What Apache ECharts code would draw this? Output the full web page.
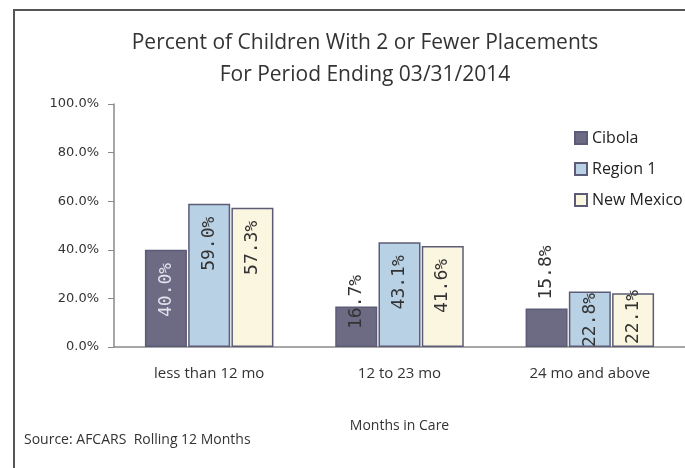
<!DOCTYPE html>
<html>
<head>
<meta charset="utf-8">
<script src="https://cdn.jsdelivr.net/npm/echarts@6/dist/echarts.min.js"></script>
<style>
  html, body { margin: 0; padding: 0; background: #fff; }
  #chart { width: 685px; height: 468px; }
</style>
</head>
<body>
<div id="chart"></div>
<script>
// data
const categories = ["less than 12 mo", "12 to 23 mo", "24 mo and above"];
const seriesNames = ["Cibola", "Region 1", "New Mexico"];
const cibola = [40.0, 16.7, 15.8];
const region1 = [59.0, 43.1, 22.8];
const newMexico = [57.3, 41.6, 22.1];
const yTicks = [0, 20, 40, 60, 80, 100];

const colors = ["#6d6a84", "#b9d1e4", "#faf6df"];
const labelColors = ["#e2e2ec", "#333", "#333"];

// labels that Excel did not put at the inside end of the bar
const labelTweaks = {
  "0-1": { position: "insideBottom", align: "left", distance: 18, color: "#333" },
  "0-2": { position: "top", align: "left", distance: 9, color: "#333" },
  "1-2": { position: "insideBottom", align: "left", distance: 0 },
  "2-2": { position: "insideBottom", align: "left", distance: 3 },
};

const chart = echarts.init(document.getElementById("chart"));

const allValues = [cibola, region1, newMexico];
const series = allValues.map(function (vals, s) {
  return {
    name: seriesNames[s],
    type: "bar",
    barWidth: 42,
    barGap: "3%",
    itemStyle: {
      color: colors[s],
      borderColor: "#5c5c78",
      borderWidth: 1.5,
    },
    label: {
      show: true,
      rotate: 90,
      position: "insideTop",
      align: "right",
      verticalAlign: "middle",
      distance: 13,
      color: labelColors[s],
      fontFamily: "DejaVu Sans Mono",
      fontSize: 18,
      formatter: function (p) {
        return p.value.toFixed(1) + "%";
      },
    },
    data: vals.map(function (v, i) {
      const t = labelTweaks[s + "-" + i];
      return t ? { value: v, label: t } : v;
    }),
  };
});

const option = {
  backgroundColor: "#fff",
  animation: false,
  title: {
    text: "Percent of Children With 2 or Fewer Placements\nFor Period Ending 03/31/2014",
    left: 360,
    top: 22,
    textAlign: "center",
    textStyle: {
      fontFamily: "Open Sans",
      fontWeight: "normal",
      fontSize: 21,
      lineHeight: 32,
      color: "#333",
    },
  },
  legend: {
    orient: "vertical",
    left: 569,
    top: 123,
    itemWidth: 12,
    itemHeight: 12,
    itemGap: 11,
    icon: "rect",
    textStyle: { fontFamily: "Open Sans", fontSize: 16, lineHeight: 20, color: "#222" },
    data: seriesNames,
  },
  grid: { left: 114, right: -11, top: 104, bottom: 121 },
  xAxis: {
    type: "category",
    data: categories,
    name: "Months in Care",
    nameLocation: "middle",
    nameGap: 72,
    nameTextStyle: { fontFamily: "Open Sans", fontSize: 14, color: "#333" },
    axisLine: { lineStyle: { color: "#8a8a8a", width: 1.5 } },
    axisTick: { length: 6, lineStyle: { color: "#8a8a8a" } },
    axisLabel: { fontFamily: "Open Sans", fontSize: 15, color: "#333", margin: 19 },
  },
  yAxis: {
    type: "value",
    min: yTicks[0],
    max: yTicks[yTicks.length - 1],
    interval: yTicks[1] - yTicks[0],
    splitLine: { show: false },
    axisLine: { show: true, lineStyle: { color: "#8a8a8a", width: 1.5 } },
    axisTick: { show: true, length: 6, lineStyle: { color: "#8a8a8a" } },
    axisLabel: {
      fontFamily: "DejaVu Sans",
      fontSize: 13,
      color: "#333",
      margin: 15,
      formatter: function (v) {
        return v.toFixed(1) + "%";
      },
    },
  },
  graphic: [
    {
      type: "rect",
      shape: { x: 14, y: 10, width: 720, height: 500 },
      style: { fill: null, stroke: "#555", lineWidth: 2 },
      silent: true,
    },
    {
      type: "text",
      left: 24,
      top: 433,
      style: {
        text: "Source: AFCARS  Rolling 12 Months",
        fontFamily: "Open Sans",
        fontSize: 14,
        fill: "#333",
      },
    },
  ],
  series: series,
};

chart.setOption(option);
</script>
</body>
</html>
